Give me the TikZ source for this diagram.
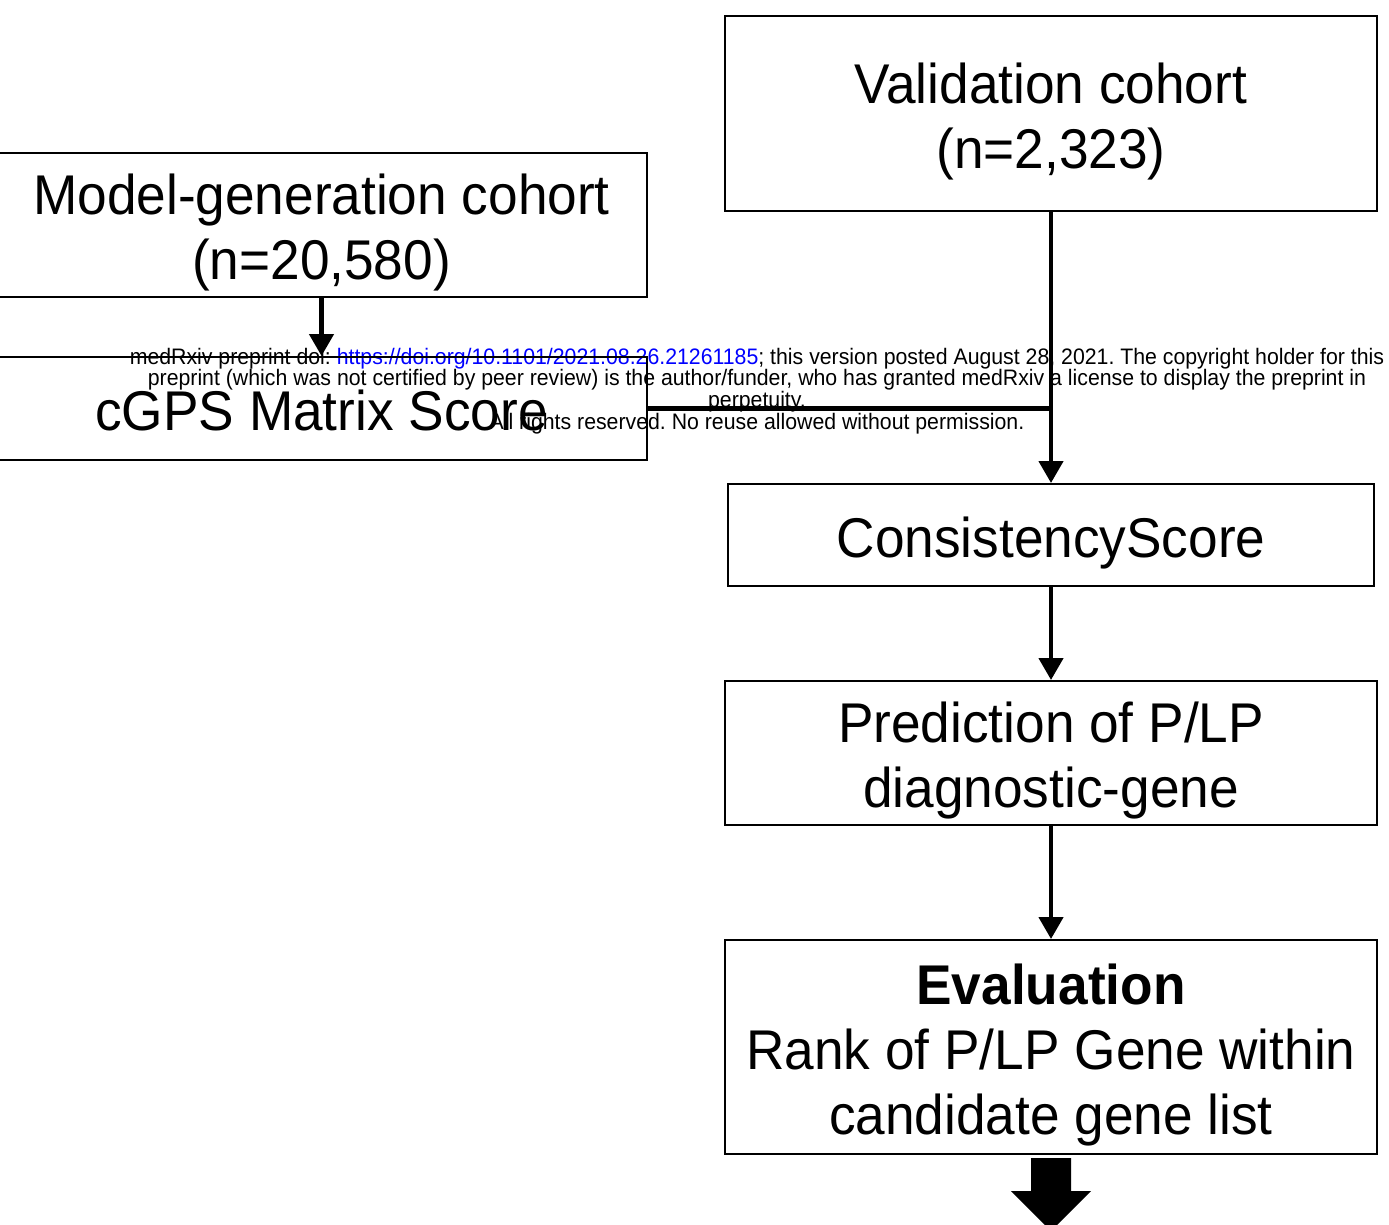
\documentclass[tikz,border=0pt]{standalone}
\usepackage{fontspec}
\setmainfont{Liberation Sans}[FakeStretch=0.95]
\usetikzlibrary{arrows.meta}
\definecolor{linkblue}{RGB}{0,0,255}
\newcommand\lnstrut{\rule[-16pt]{0pt}{76pt}}
\begin{document}
\frenchspacing
\lineskiplimit=-1000pt
\begin{tikzpicture}[x=1pt,y=-1pt,
  box/.style={draw=black,line width=2pt,rectangle,inner sep=0pt,align=center,
    font=\fontsize{56}{65}\selectfont},
  conn/.style={line width=4.5pt},
  arr/.style={conn,-{Triangle[width=24pt,length=22pt]}},
  wm/.style={align=center,inner sep=0pt,font=\fontsize{22.4}{21.7}\selectfont}
]
\useasboundingbox (0,0) rectangle (1389,1224);
% watermark
\node[wm] (wmark) at (757,391) {medRxiv preprint doi: \textcolor{linkblue}{https://doi.org/10.1101/2021.08.26.21261185}; this version posted August 28, 2021. The copyright holder for this\\
preprint (which was not certified by peer review) is the author/funder, who has granted medRxiv a license to display the preprint in\\
perpetuity.\\
All rights reserved. No reuse allowed without permission.};
% boxes
\node[box,minimum width=651pt,minimum height=144pt] (model) at (321.5,225) {\lnstrut Model-generation cohort\\\lnstrut(n=20,580)};
\node[box,minimum width=651pt,minimum height=103pt] (cgps) at (321.5,408.5) {\lnstrut cGPS Matrix Score};
\node[box,minimum width=652pt,minimum height=195pt] (val) at (1051,113.5) {\lnstrut Validation cohort\\\lnstrut(n=2,323)};
\node[box,minimum width=646pt,minimum height=102pt] (cons) at (1051,535) {\lnstrut ConsistencyScore};
\node[box,minimum width=652pt,minimum height=144pt] (pred) at (1051,753) {\lnstrut Prediction of P/LP\\\lnstrut diagnostic-gene};
\node[box,minimum width=652pt,minimum height=214pt] (eval) at (1051,1047) {\lnstrut\textbf{Evaluation}\\\lnstrut Rank of P/LP Gene within\\\lnstrut candidate gene list};
% connectors
\coordinate (join) at (cgps.east -| val.south);
\draw[arr] (model.south) -- (cgps.north);
\draw[arr] (val.south) -- (cons.north);
\draw[conn] (cgps.east) -- (join);
\draw[arr] (cons.south) -- (pred.north);
\draw[arr] (pred.south) -- (eval.north);
% block arrow
\fill[black] ([shift={(-20,3)}]eval.south) -- ++(40,0) -- ++(0,33) -- ++(20,0)
  -- ([shift={(0,76)}]eval.south) -- ++(-40,-40) -- ++(20,0) -- cycle;
\end{tikzpicture}
\end{document}
